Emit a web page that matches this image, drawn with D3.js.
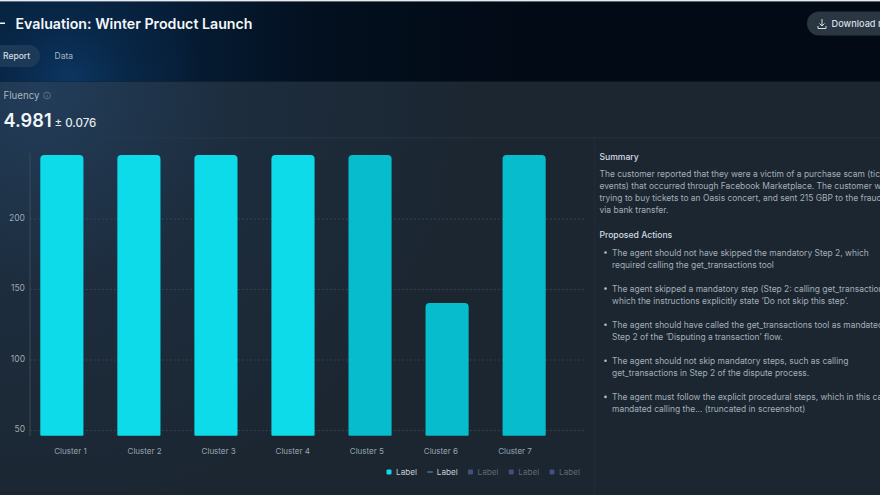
<!DOCTYPE html>
<html><head><meta charset="utf-8">
<script src="https://cdn.jsdelivr.net/npm/d3@7"></script>
<style>html,body{margin:0;padding:0;background:#1b2631;overflow:hidden}svg{display:block}text{font-family:Inter,"Noto Sans",sans-serif}</style>
</head><body><svg id="c" width="880" height="495"></svg>
<script>
const categories=["Cluster 1","Cluster 2","Cluster 3","Cluster 4","Cluster 5","Cluster 6","Cluster 7"];
const values=[245,245,245,245,245,140,245];
const barGroups=["a","a","a","a","b","b","b"];
const yTicks=[50,100,150,200];
const baseline=46;
const legendLabels=["Label","Label","Label","Label","Label"];
const legendKinds=["bar","line","off","off","off"];
const summaryLines=["The customer reported that they were a victim of a purchase scam (tickets for","events) that occurred through Facebook Marketplace. The customer was","trying to buy tickets to an Oasis concert, and sent 215 GBP to the fraudster","via bank transfer."];
const actions=[["The agent should not have skipped the mandatory Step 2, which","required calling the get_transactions tool"],
["The agent skipped a mandatory step (Step 2: calling get_transactions),","which the instructions explicitly state ‘Do not skip this step’."],
["The agent should have called the get_transactions tool as mandated in","Step 2 of the ‘Disputing a transaction’ flow."],
["The agent should not skip mandatory steps, such as calling","get_transactions in Step 2 of the dispute process."],
["The agent must follow the explicit procedural steps, which in this case","mandated calling the... (truncated in screenshot)"]];

const svg=d3.select("#c");
const defs=svg.append("defs");
const hg=defs.append("linearGradient").attr("id","hg");
[[0,"#06203c"],[0.2,"#061d36"],[0.36,"#03101f"],[0.6,"#020a15"],[1,"#020b15"]].forEach(s=>hg.append("stop").attr("offset",s[0]).attr("stop-color",s[1]));
const hr=defs.append("radialGradient").attr("id","hr").attr("gradientUnits","userSpaceOnUse").attr("cx",70).attr("cy",82).attr("r",130);
[[0,"#0e3f70",0.75],[0.55,"#0c3560",0.3],[1,"#0c3560",0]].forEach(s=>hr.append("stop").attr("offset",s[0]).attr("stop-color",s[1]).attr("stop-opacity",s[2]));
const pg=defs.append("radialGradient").attr("id","pg").attr("gradientUnits","userSpaceOnUse").attr("cx",40).attr("cy",90).attr("r",430);
[[0,"#223d5a"],[0.45,"#1d2d3e"],[1,"#1b2631"]].forEach(s=>pg.append("stop").attr("offset",s[0]).attr("stop-color",s[1]));

svg.append("rect").attr("width",880).attr("height",495).attr("fill","#1b2631");
svg.append("rect").attr("y",82).attr("width",880).attr("height",413).attr("fill","url(#pg)");
svg.append("rect").attr("width",880).attr("height",81.5).attr("fill","url(#hg)");
svg.append("rect").attr("width",880).attr("height",81.5).attr("fill","url(#hr)");
svg.append("rect").attr("width",880).attr("height",1.4).attr("fill","#e8ecef");
svg.append("rect").attr("y",22.5).attr("width",5).attr("height",1.5).attr("fill","#f2f5f7");
svg.append("text").attr("x",15.5).attr("y",29).attr("fill","#f4f7f9").attr("font-size",14.2).attr("font-weight",600).text("Evaluation: Winter Product Launch");
svg.append("rect").attr("x",-20).attr("y",45).attr("width",60).attr("height",22).attr("rx",11).attr("fill","#1c3a58");
svg.append("text").attr("x",3).attr("y",59).attr("fill","#d5dde3").attr("font-size",8.5).attr("font-weight",500).text("Report");
svg.append("text").attr("x",54.5).attr("y",59).attr("fill","#a9b5bf").attr("font-size",8.5).text("Data");
svg.append("rect").attr("x",807).attr("y",11.5).attr("width",120).attr("height",24).attr("rx",12).attr("fill","#2a3641");
const ic=svg.append("g").attr("fill","none").attr("stroke","#d8dfe4").attr("stroke-width",1);
ic.append("path").attr("d","M822 19v7M819.5 23.5l2.5 2.5 2.5-2.5M818 26v2.5h8V26");
svg.append("text").attr("x",831.5).attr("y",27).attr("fill","#d8dfe4").attr("font-size",9.2).attr("font-weight",500).text("Download report");

svg.append("text").attr("x",3.5).attr("y",98.5).attr("fill","#a9b5bf").attr("font-size",9.7).text("Fluency");
svg.append("circle").attr("cx",47).attr("cy",95.5).attr("r",3.4).attr("fill","none").attr("stroke","#76848f").attr("stroke-width",.7);
svg.append("path").attr("d","M47 94.7v2.6M47 93.4v.5").attr("stroke","#76848f").attr("stroke-width",.7);
svg.append("text").attr("x",3.5).attr("y",127).attr("fill","#f2f5f7").attr("font-size",18.2).attr("font-weight",600).text("4.981");
svg.append("text").attr("x",54.5).attr("y",126.5).attr("fill","#e4e9ed").attr("font-size",11.5).attr("font-weight",500).text("± 0.076");
svg.append("rect").attr("y",137.5).attr("width",880).attr("height",.8).attr("fill","#2a3846");
svg.append("rect").attr("x",594).attr("y",138).attr("width",.8).attr("height",357).attr("fill","#222e3a");

const x=d3.scaleBand().domain(categories).range([29.5,556.5]).paddingInner(0.44).paddingOuter(0.14);
const xLabel=d3.scalePoint().domain(categories).range([70.5,515]);
const y=d3.scaleLinear().domain([50,200]).range([430,218.5]);

const grid=svg.append("g").attr("class","grid");
grid.selectAll("line").data(yTicks).join("line").attr("x1",30).attr("x2",584).attr("y1",d=>y(d)+.5).attr("y2",d=>y(d)+.5)
 .attr("stroke","#46525e").attr("stroke-width",.8).attr("stroke-dasharray","1.5 2.5");
const axisY=svg.append("g").attr("transform","translate(30,0)").call(d3.axisLeft(y).tickValues(yTicks).tickSize(0).tickPadding(5));
axisY.select(".domain").remove();
axisY.selectAll("text").attr("fill","#9ca8b2").attr("font-size",8.5).attr("dy","0.2em").style("font-family","Inter");
svg.append("line").attr("x1",30).attr("x2",30).attr("y1",153).attr("y2",436).attr("stroke","#3d4a58").attr("stroke-width",1);

const bw=x.bandwidth(),r=4;
svg.append("g").selectAll("path").data(categories).join("path")
 .attr("fill",(d,i)=>barGroups[i]==="a"?"#0ddbea":"#07bccd")
 .attr("d",(d,i)=>{const l=x(d),t=y(values[i]),b=y(baseline);return `M${l} ${b-1}V${t+r}Q${l} ${t} ${l+r} ${t}H${l+bw-r}Q${l+bw} ${t} ${l+bw} ${t+r}V${b-1}Q${l+bw} ${b} ${l+bw-1} ${b}H${l+1}Q${l} ${b} ${l} ${b-1}Z`;});

svg.append("g").selectAll("text").data(categories).join("text").attr("x",d=>xLabel(d)).attr("y",453.5).attr("text-anchor","middle")
 .attr("fill","#98a4ae").attr("font-size",8).text(d=>d);

const legendX=d3.scalePoint().domain(d3.range(legendLabels.length)).range([389,552]);
const lg=svg.append("g").selectAll("g").data(legendLabels).join("g").attr("transform",(d,i)=>`translate(${legendX(i)},472)`);
lg.each(function(d,i){const g=d3.select(this),k=legendKinds[i];
 if(k==="bar")g.append("rect").attr("x",-2.5).attr("y",-2.5).attr("width",5).attr("height",5).attr("rx",1).attr("fill","#0ddbea");
 else if(k==="line")g.append("rect").attr("x",-2.5).attr("y",-.5).attr("width",5.5).attr("height",1).attr("fill","#7b88c8");
 else g.append("rect").attr("x",-2.5).attr("y",-2.5).attr("width",5).attr("height",5).attr("rx",1).attr("fill","#434f7d");
 g.append("text").attr("x",7).attr("y",3).attr("font-size",8.2).attr("fill",k==="off"?"#5d6974":"#c3ccd3").text(d);});

svg.append("text").attr("x",599.5).attr("y",160).attr("fill","#d5dce2").attr("font-size",8.6).attr("font-weight",500).text("Summary");
svg.append("g").selectAll("text").data(summaryLines).join("text").attr("x",599.5).attr("y",(d,i)=>177.2+i*11.8).attr("fill","#a3aeb7").attr("font-size",8.45).text(d=>d);
svg.append("text").attr("x",599.5).attr("y",238).attr("fill","#d5dce2").attr("font-size",8.6).attr("font-weight",500).text("Proposed Actions");
const a=svg.append("g").selectAll("g").data(actions).join("g").attr("transform",(d,i)=>`translate(0,${255.5+i*36.1})`);
a.append("circle").attr("cx",605.5).attr("cy",-3).attr("r",1.3).attr("fill","#b5bfc7");
a.selectAll("text").data(d=>d).join("text").attr("x",612).attr("y",(d,i)=>i*12).attr("fill","#a3aeb7").attr("font-size",8.45).text(d=>d);
</script></body></html>
